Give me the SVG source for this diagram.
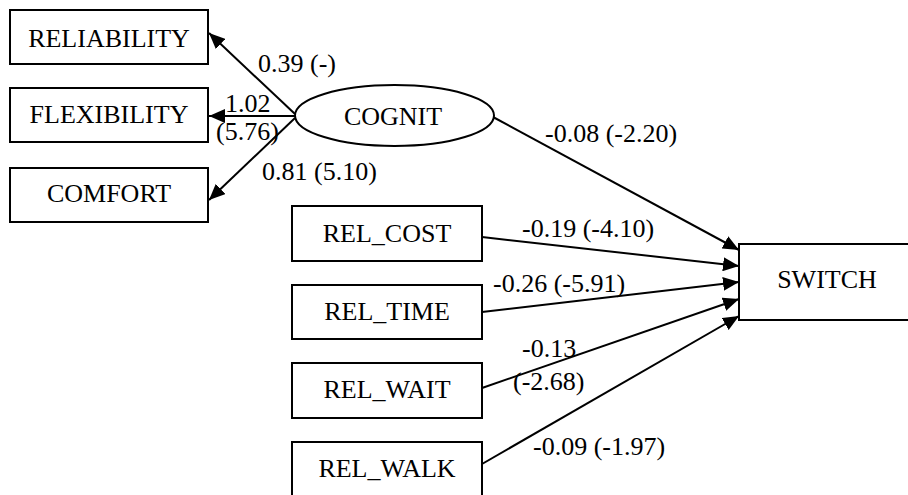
<svg xmlns="http://www.w3.org/2000/svg" width="908" height="495" viewBox="0 0 908 495">
<style>
.box{fill:#fff;stroke:#000;stroke-width:2}
.t{font-family:"Liberation Serif","Times New Roman",serif;font-size:26px;fill:#000}
.c{text-anchor:middle}
.e{fill:none;stroke:#000;stroke-width:2;marker-end:url(#ah)}
</style>
<defs>
<marker id="ah" markerUnits="userSpaceOnUse" markerWidth="18" markerHeight="14" refX="16" refY="7" orient="auto">
<path d="M0,0 L16,7 L0,14 z" fill="#000"/>
</marker>
</defs>
<rect width="908" height="495" fill="#fff"/>
<g id="connectors">
<line class="e" x1="295" y1="114" x2="209" y2="33"/>
<line class="e" x1="295" y1="116" x2="209" y2="116"/>
<line class="e" x1="295" y1="118" x2="209" y2="200"/>
<line class="e" x1="493" y1="117" x2="739" y2="250"/>
<line class="e" x1="482" y1="237" x2="739" y2="266"/>
<line class="e" x1="482" y1="312" x2="739" y2="282"/>
<line class="e" x1="482" y1="388" x2="739" y2="299"/>
<line class="e" x1="482" y1="464" x2="739" y2="316"/>
</g>
<g id="labels">
<text class="t" x="258" y="72">0.39 (-)</text>
<text class="t" x="225" y="112">1.02</text>
<text class="t" x="216" y="140">(5.76)</text>
<text class="t" x="262" y="180">0.81 (5.10)</text>
<text class="t" x="545" y="142">-0.08 (-2.20)</text>
<text class="t" x="522" y="237">-0.19 (-4.10)</text>
<text class="t" x="493" y="292">-0.26 (-5.91)</text>
<text class="t" x="522" y="357">-0.13</text>
<text class="t" x="513" y="390">(-2.68)</text>
<text class="t" x="533" y="455">-0.09 (-1.97)</text>
</g>
<g id="RELIABILITY"><rect class="box" x="10" y="10" width="198" height="54"/><text class="t c" x="109" y="47">RELIABILITY</text></g>
<g id="FLEXIBILITY"><rect class="box" x="10" y="88" width="198" height="54"/><text class="t c" x="109" y="123">FLEXIBILITY</text></g>
<g id="COMFORT"><rect class="box" x="10" y="168" width="198" height="54"/><text class="t c" x="109" y="202">COMFORT</text></g>
<g id="COGNIT"><ellipse class="box" cx="394.5" cy="115.5" rx="99.5" ry="30.5"/><text class="t c" x="393" y="125">COGNIT</text></g>
<g id="REL_COST"><rect class="box" x="292" y="206" width="190" height="55"/><text class="t c" x="387" y="242">REL_COST</text></g>
<g id="REL_TIME"><rect class="box" x="292" y="285" width="190" height="54"/><text class="t c" x="387" y="320">REL_TIME</text></g>
<g id="REL_WAIT"><rect class="box" x="292" y="363" width="190" height="55"/><text class="t c" x="387" y="398">REL_WAIT</text></g>
<g id="REL_WALK"><rect class="box" x="292" y="442" width="190" height="60"/><text class="t c" x="387" y="477">REL_WALK</text></g>
<g id="SWITCH"><rect class="box" x="739" y="244" width="180" height="76"/><text class="t c" x="827" y="288">SWITCH</text></g>
</svg>
